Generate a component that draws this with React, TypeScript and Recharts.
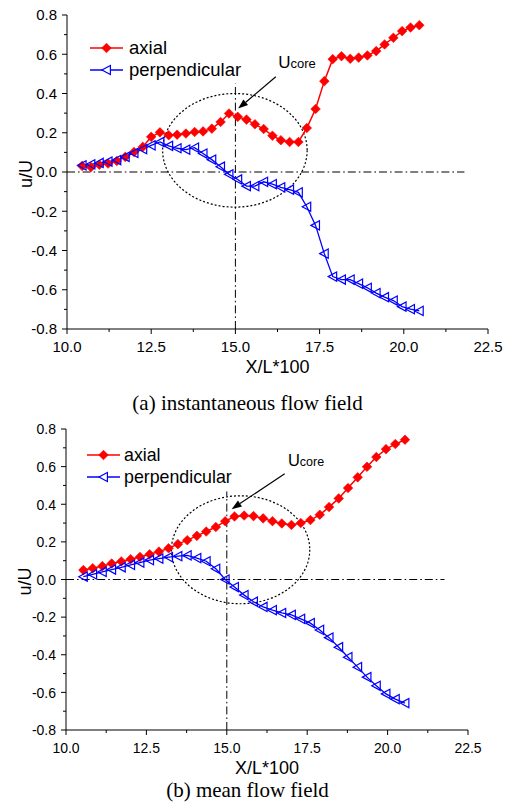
import React from 'react';
import { LineChart, Line, XAxis, YAxis, ReferenceLine, ReferenceArea, ReferenceDot, Label } from 'recharts';

// ---------- tick / label constants ----------
const xTicks = [10, 11.25, 12.5, 13.75, 15, 16.25, 17.5, 18.75, 20, 21.25, 22.5];
const xMajorTicks = [10, 12.5, 15, 17.5, 20, 22.5];
const yTicks = [-0.8, -0.7, -0.6, -0.5, -0.4, -0.3, -0.2, -0.1, 0, 0.1, 0.2, 0.3, 0.4, 0.5, 0.6, 0.7, 0.8];
const yMajorTicks = [-0.8, -0.6, -0.4, -0.2, 0, 0.2, 0.4, 0.6, 0.8];
const seriesNames = ['axial', 'perpendicular'];
const captions = ['(a) instantaneous flow field', '(b) mean flow field'];
const xTitle = 'X/L*100';
const yTitle = 'u/U';
const coreMain = 'U';
const coreSub = 'core';

// ---------- (a) instantaneous flow field ----------
const topX = [10.45, 10.71, 10.96, 11.22, 11.48, 11.73, 11.99, 12.25, 12.5, 12.76, 13.02, 13.27, 13.53, 13.79, 14.04, 14.3, 14.56, 14.81, 15.07, 15.33, 15.58, 15.84, 16.1, 16.35, 16.61, 16.87, 17.12, 17.38, 17.64, 17.89, 18.15, 18.41, 18.66, 18.92, 19.18, 19.43, 19.69, 19.95, 20.2, 20.46];
const topAxial = [0.031, 0.025, 0.037, 0.043, 0.056, 0.077, 0.102, 0.128, 0.179, 0.202, 0.187, 0.19, 0.196, 0.204, 0.207, 0.221, 0.255, 0.298, 0.281, 0.267, 0.243, 0.219, 0.185, 0.162, 0.153, 0.153, 0.224, 0.321, 0.463, 0.575, 0.59, 0.577, 0.583, 0.594, 0.616, 0.65, 0.684, 0.718, 0.736, 0.748];
const topPerp = [0.034, 0.039, 0.046, 0.053, 0.061, 0.077, 0.097, 0.116, 0.136, 0.153, 0.133, 0.121, 0.114, 0.124, 0.094, 0.063, 0.027, -0.012, -0.038, -0.072, -0.072, -0.05, -0.062, -0.078, -0.09, -0.104, -0.177, -0.272, -0.416, -0.533, -0.548, -0.548, -0.569, -0.59, -0.617, -0.638, -0.655, -0.686, -0.699, -0.708];

// ---------- (b) mean flow field ----------
const botX = [10.54, 10.83, 11.13, 11.42, 11.72, 12.01, 12.3, 12.6, 12.89, 13.19, 13.48, 13.77, 14.07, 14.36, 14.66, 14.95, 15.24, 15.54, 15.83, 16.13, 16.42, 16.71, 17.01, 17.3, 17.6, 17.89, 18.18, 18.48, 18.77, 19.07, 19.36, 19.65, 19.95, 20.24, 20.54];
const botAxial = [0.05, 0.06, 0.071, 0.085, 0.096, 0.108, 0.12, 0.134, 0.148, 0.166, 0.188, 0.209, 0.232, 0.255, 0.279, 0.31, 0.335, 0.34, 0.337, 0.325, 0.31, 0.298, 0.29, 0.3, 0.316, 0.344, 0.385, 0.431, 0.486, 0.543, 0.599, 0.651, 0.693, 0.72, 0.743];
const botPerp = [0.015, 0.027, 0.04, 0.053, 0.065, 0.078, 0.09, 0.103, 0.111, 0.119, 0.124, 0.128, 0.114, 0.097, 0.057, 0.0, -0.04, -0.083, -0.118, -0.146, -0.163, -0.178, -0.188, -0.209, -0.232, -0.268, -0.309, -0.36, -0.413, -0.466, -0.519, -0.565, -0.608, -0.636, -0.657];

const SANS = '"Liberation Sans", Arial, Helvetica, sans-serif';
const SERIF = '"Liberation Serif", "Times New Roman", Times, serif';
const RED = '#ff0000';
const BLUE = '#0000ff';

const toPts = (xs: number[], ys: number[]) => xs.map((x, i) => ({ x, y: ys[i] }));

const isIn = (v: number, arr: number[]) => arr.some((m) => Math.abs(m - v) < 1e-6);

const diamondPath = (cx: number, cy: number, s: number) =>
  `${cx},${cy - s} ${cx + s},${cy} ${cx},${cy + s} ${cx - s},${cy}`;
const triPath = (cx: number, cy: number, s: number) =>
  `${cx - s},${cy} ${cx + s * 0.85},${cy - s} ${cx + s * 0.85},${cy + s}`;

const DiamondDot = (props: any) => {
  const { cx, cy, index } = props;
  if (cx == null || cy == null) return <g key={`dd-${index}`} />;
  return <polygon key={`dd-${index}`} points={diamondPath(cx, cy, 4.8)} fill={RED} stroke={RED} strokeWidth={0.6} />;
};

const TriDot = (props: any) => {
  const { cx, cy, index } = props;
  if (cx == null || cy == null) return <g key={`td-${index}`} />;
  return <polygon key={`td-${index}`} points={triPath(cx, cy, 4.6)} fill="none" stroke={BLUE} strokeWidth={1.2} />;
};

const makeXTick = (fs: number) => (props: any) => {
  const { x, y, payload } = props;
  const v = payload.value as number;
  const major = isIn(v, xMajorTicks);
  return (
    <g>
      <line x1={x} y1={y} x2={x} y2={y + (major ? 5 : 3)} stroke="#000" strokeWidth={1} />
      {major && (
        <text x={x} y={y + 23} textAnchor="middle" fontSize={fs} fontFamily={SANS} fill="#000">
          {v.toFixed(1)}
        </text>
      )}
    </g>
  );
};

const makeYTick = (fs: number) => (props: any) => {
  const { x, y, payload } = props;
  const v = payload.value as number;
  const major = isIn(v, yMajorTicks);
  return (
    <g>
      <line x1={x} y1={y} x2={x - (major ? 5 : 3)} y2={y} stroke="#000" strokeWidth={1} />
      {major && (
        <text x={x - 10} y={y + 5.3} textAnchor="end" fontSize={fs} fontFamily={SANS} fill="#000">
          {(Math.abs(v) < 1e-9 ? 0 : v).toFixed(1)}
        </text>
      )}
    </g>
  );
};

const Arrow = (props: any) => {
  const { x1, y1, x2, y2 } = props;
  if ([x1, y1, x2, y2].some((v) => v == null || isNaN(v))) return <g />;
  const ang = Math.atan2(y2 - y1, x2 - x1);
  const L = 10;
  const W = 3.6;
  const bx = x2 - L * Math.cos(ang);
  const by = y2 - L * Math.sin(ang);
  const px = -Math.sin(ang) * W;
  const py = Math.cos(ang) * W;
  return (
    <g>
      <line x1={x1} y1={y1} x2={bx} y2={by} stroke="#000" strokeWidth={1.2} />
      <polygon points={`${x2},${y2} ${bx + px},${by + py} ${bx - px},${by - py}`} fill="#000" />
    </g>
  );
};

const EllipseShape = (props: any) => {
  const { x, y, width, height } = props;
  if ([x, y, width, height].some((v) => v == null || isNaN(v))) return <g />;
  return (
    <ellipse
      cx={x + width / 2}
      cy={y + height / 2}
      rx={Math.abs(width) / 2}
      ry={Math.abs(height) / 2}
      fill="none"
      stroke="#000"
      strokeWidth={1.2}
      strokeDasharray="2 2"
    />
  );
};

const makeCoreLabel = (big: number, small: number) => (props: any) => {
  const { cx, cy } = props;
  if (cx == null || cy == null) return <g />;
  return (
    <text x={cx} y={cy} fontFamily={SANS} fill="#000">
      <tspan fontSize={big}>{coreMain}</tspan>
      <tspan fontSize={small}>{coreSub}</tspan>
    </text>
  );
};

type PanelProps = {
  top: number;
  height: number;
  margin: { top: number; right: number; bottom: number; left: number };
  xs: number[];
  axial: number[];
  perp: number[];
  ellipse: { x1: number; x2: number; y1: number; y2: number };
  arrowFrom: { x: number; y: number };
  arrowTo: { x: number; y: number };
  corePos: { x: number; y: number };
  vTop: number;
  hEnd: number;
  tickFs: number;
  titleFs: number;
  legendFs: number;
  coreFs: [number, number];
  legend: { x1: number; x2: number; tx: number; y1: number; y2: number };
};

const Panel = (p: PanelProps) => {
  const axialData = toPts(p.xs, p.axial);
  const perpData = toPts(p.xs, p.perp);
  const dash = '8 3 1.6 3';
  return (
    <div style={{ position: 'absolute', left: 0, top: p.top, width: 515, height: p.height }}>
      <LineChart width={515} height={p.height} margin={p.margin} style={{ fontFamily: SANS }}>
        <XAxis
          dataKey="x"
          type="number"
          domain={[10, 22.5]}
          ticks={xTicks}
          allowDataOverflow
          interval={0}
          height={46}
          tickSize={0}
          tickMargin={0}
          tickLine={false}
          axisLine={{ stroke: '#000', strokeWidth: 1 }}
          tick={makeXTick(p.tickFs)}
        >
          <Label
            content={(lp: any) => {
              const vb = lp.viewBox || {};
              return (
                <text x={vb.x + vb.width / 2} y={vb.y + 44} textAnchor="middle" fontSize={p.titleFs} fontFamily={SANS} fill="#000">
                  {xTitle}
                </text>
              );
            }}
          />
        </XAxis>
        <YAxis
          dataKey="y"
          type="number"
          domain={[-0.8, 0.8]}
          ticks={yTicks}
          allowDataOverflow
          interval={0}
          width={60}
          tickSize={0}
          tickMargin={0}
          tickLine={false}
          axisLine={{ stroke: '#000', strokeWidth: 1 }}
          tick={makeYTick(p.tickFs)}
        >
          <Label
            content={(lp: any) => {
              const vb = lp.viewBox || {};
              const bx = vb.x + 25;
              const cy = vb.y + vb.height / 2 + 2;
              return (
                <text x={bx} y={cy} transform={`rotate(-90, ${bx}, ${cy})`} textAnchor="middle" fontSize={p.titleFs} fontFamily={SANS} fill="#000">
                  {yTitle}
                </text>
              );
            }}
          />
        </YAxis>
        <ReferenceLine segment={[{ x: 10, y: 0 }, { x: p.hEnd, y: 0 }]} stroke="#000" strokeWidth={1} strokeDasharray={dash} />
        <ReferenceLine segment={[{ x: 15, y: -0.8 }, { x: 15, y: p.vTop }]} stroke="#000" strokeWidth={1} strokeDasharray={dash} />
        <ReferenceArea x1={p.ellipse.x1} x2={p.ellipse.x2} y1={p.ellipse.y1} y2={p.ellipse.y2} shape={EllipseShape} />
        <ReferenceLine segment={[p.arrowFrom, p.arrowTo]} shape={Arrow} />
        <ReferenceDot x={p.corePos.x} y={p.corePos.y} r={0} shape={makeCoreLabel(p.coreFs[0], p.coreFs[1])} />
        <Line
          data={axialData}
          dataKey="y"
          name={seriesNames[0]}
          type="linear"
          stroke={RED}
          strokeWidth={1.5}
          dot={DiamondDot}
          activeDot={false}
          isAnimationActive={false}
        />
        <Line
          data={perpData}
          dataKey="y"
          name={seriesNames[1]}
          type="linear"
          stroke={BLUE}
          strokeWidth={1.3}
          dot={TriDot}
          activeDot={false}
          isAnimationActive={false}
        />
      </LineChart>
      <svg width={515} height={p.height} style={{ position: 'absolute', left: 0, top: 0, pointerEvents: 'none' }}>
        <line x1={p.legend.x1} x2={p.legend.x2} y1={p.legend.y1} y2={p.legend.y1} stroke={RED} strokeWidth={1.5} />
        <polygon points={diamondPath((p.legend.x1 + p.legend.x2) / 2, p.legend.y1, 4.8)} fill={RED} stroke={RED} strokeWidth={0.6} />
        <text x={p.legend.tx} y={p.legend.y1 + 5.5} fontSize={p.legendFs} fontFamily={SANS} fill="#000">
          {seriesNames[0]}
        </text>
        <line x1={p.legend.x1} x2={p.legend.x2} y1={p.legend.y2} y2={p.legend.y2} stroke={BLUE} strokeWidth={1.3} />
        <polygon points={triPath((p.legend.x1 + p.legend.x2) / 2, p.legend.y2, 4.6)} fill="#fff" stroke={BLUE} strokeWidth={1.2} />
        <text x={p.legend.tx} y={p.legend.y2 + 5.5} fontSize={p.legendFs} fontFamily={SANS} fill="#000">
          {seriesNames[1]}
        </text>
      </svg>
    </div>
  );
};

export default function App() {
  return (
    <div style={{ position: 'absolute', left: 0, top: 0, width: 515, height: 805, background: '#fff', overflow: 'hidden' }}>
      <Panel
        top={0}
        height={390}
        margin={{ top: 15, right: 27, left: 7, bottom: 15 }}
        xs={topX}
        axial={topAxial}
        perp={topPerp}
        ellipse={{ x1: 12.84, x2: 17.13, y1: -0.179, y2: 0.4 }}
        arrowFrom={{ x: 16.2, y: 0.485 }}
        arrowTo={{ x: 15.08, y: 0.323 }}
        corePos={{ x: 16.27, y: 0.529 }}
        vTop={0.45}
        hEnd={21.8}
        tickFs={15}
        titleFs={18}
        legendFs={18.5}
        coreFs={[17, 13]}
        legend={{ x1: 90, x2: 123, tx: 129, y1: 48, y2: 70 }}
      />
      <Panel
        top={395}
        height={410}
        margin={{ top: 34, right: 47, left: 6, bottom: 29 }}
        xs={botX}
        axial={botAxial}
        perp={botPerp}
        ellipse={{ x1: 13.28, x2: 17.58, y1: -0.129, y2: 0.445 }}
        arrowFrom={{ x: 16.8, y: 0.562 }}
        arrowTo={{ x: 15.15, y: 0.374 }}
        corePos={{ x: 16.9, y: 0.601 }}
        vTop={0.468}
        hEnd={21.77}
        tickFs={14}
        titleFs={18}
        legendFs={17.8}
        coreFs={[16.5, 12.5]}
        legend={{ x1: 87, x2: 120, tx: 124, y1: 60, y2: 82 }}
      />
      <svg width={515} height={805} style={{ position: 'absolute', left: 0, top: 0, pointerEvents: 'none' }}>
        <text x={247.5} y={410} textAnchor="middle" fontSize={21} fontFamily={SERIF} fill="#000">
          {captions[0]}
        </text>
        <text x={247.5} y={797} textAnchor="middle" fontSize={21} fontFamily={SERIF} fill="#000">
          {captions[1]}
        </text>
      </svg>
    </div>
  );
}
